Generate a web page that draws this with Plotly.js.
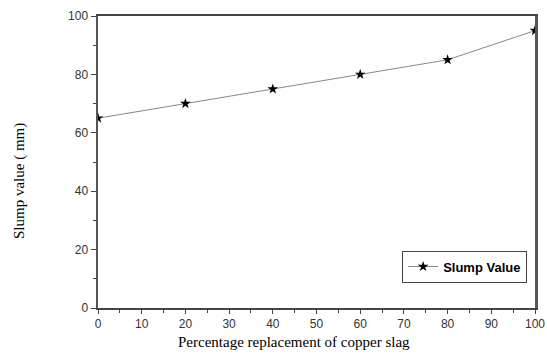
<!DOCTYPE html>
<html><head><meta charset="utf-8">
<script src="https://cdn.plot.ly/plotly-3.0.1.min.js"></script>
<style>body{margin:0;background:#fff}#c{width:547px;height:356px}</style>
</head><body><div id="c"></div>
<script>
const replacement = [0, 20, 40, 60, 80, 100];
const slump = [65, 70, 75, 80, 85, 95];
const seriesName = "Slump Value";
const xTitle = "Percentage replacement of copper slag";
const yTitle = "Slump value ( mm)";

const tickFont = {family: "Liberation Sans, Arial, sans-serif", size: 12, color: "#333"};
const titleFont = {family: "Liberation Serif, Times New Roman, serif", size: 15, color: "#000"};

Plotly.newPlot("c", [{
  x: replacement, y: slump, name: seriesName, type: "scatter", mode: "lines+markers",
  line: {color: "#888", width: 1},
  marker: {symbol: "star", size: 8, color: "#000"}
}], {
  width: 547, height: 356,
  margin: {l: 98, r: 12, t: 16, b: 48},
  paper_bgcolor: "#fff", plot_bgcolor: "#fff",
  showlegend: true,
  legend: {x: 0.982, y: 0.142, xanchor: "right", yanchor: "middle",
    bordercolor: "#444", borderwidth: 1, bgcolor: "#fff", itemwidth: 30,
    font: {family: "Liberation Sans, Arial, sans-serif", size: 13, color: "#000", weight: "bold"}},
  xaxis: {range: [0, 100], tickvals: [0,10,20,30,40,50,60,70,80,90,100], showgrid: false, zeroline: false,
    showline: true, linecolor: "#444", linewidth: 2, mirror: true,
    ticks: "outside", ticklen: 4, tickcolor: "#444", tickwidth: 1, tickfont: tickFont,
    minor: {ticks: "outside", ticklen: 3, tickcolor: "#444", dtick: 5, showgrid: false}},
  yaxis: {range: [0, 100], tickvals: [0,20,40,60,80,100], showgrid: false, zeroline: false,
    showline: true, linecolor: "#555", linewidth: 2.5, mirror: true,
    ticks: "outside", ticklen: 5, tickcolor: "#444", tickwidth: 1, tickfont: tickFont,
    minor: {ticks: "outside", ticklen: 3, tickcolor: "#444", dtick: 10, showgrid: false}},
  annotations: [
    {text: xTitle, xref: "paper", yref: "paper", x: 0.4485, y: -0.116, xanchor: "center", yanchor: "middle",
     showarrow: false, font: titleFont},
    {text: yTitle, xref: "paper", yref: "paper", x: -0.1785, y: 0.435, xanchor: "center", yanchor: "middle",
     textangle: -90, showarrow: false, font: titleFont}
  ]
}, {displayModeBar: false, staticPlot: true});
</script></body></html>
